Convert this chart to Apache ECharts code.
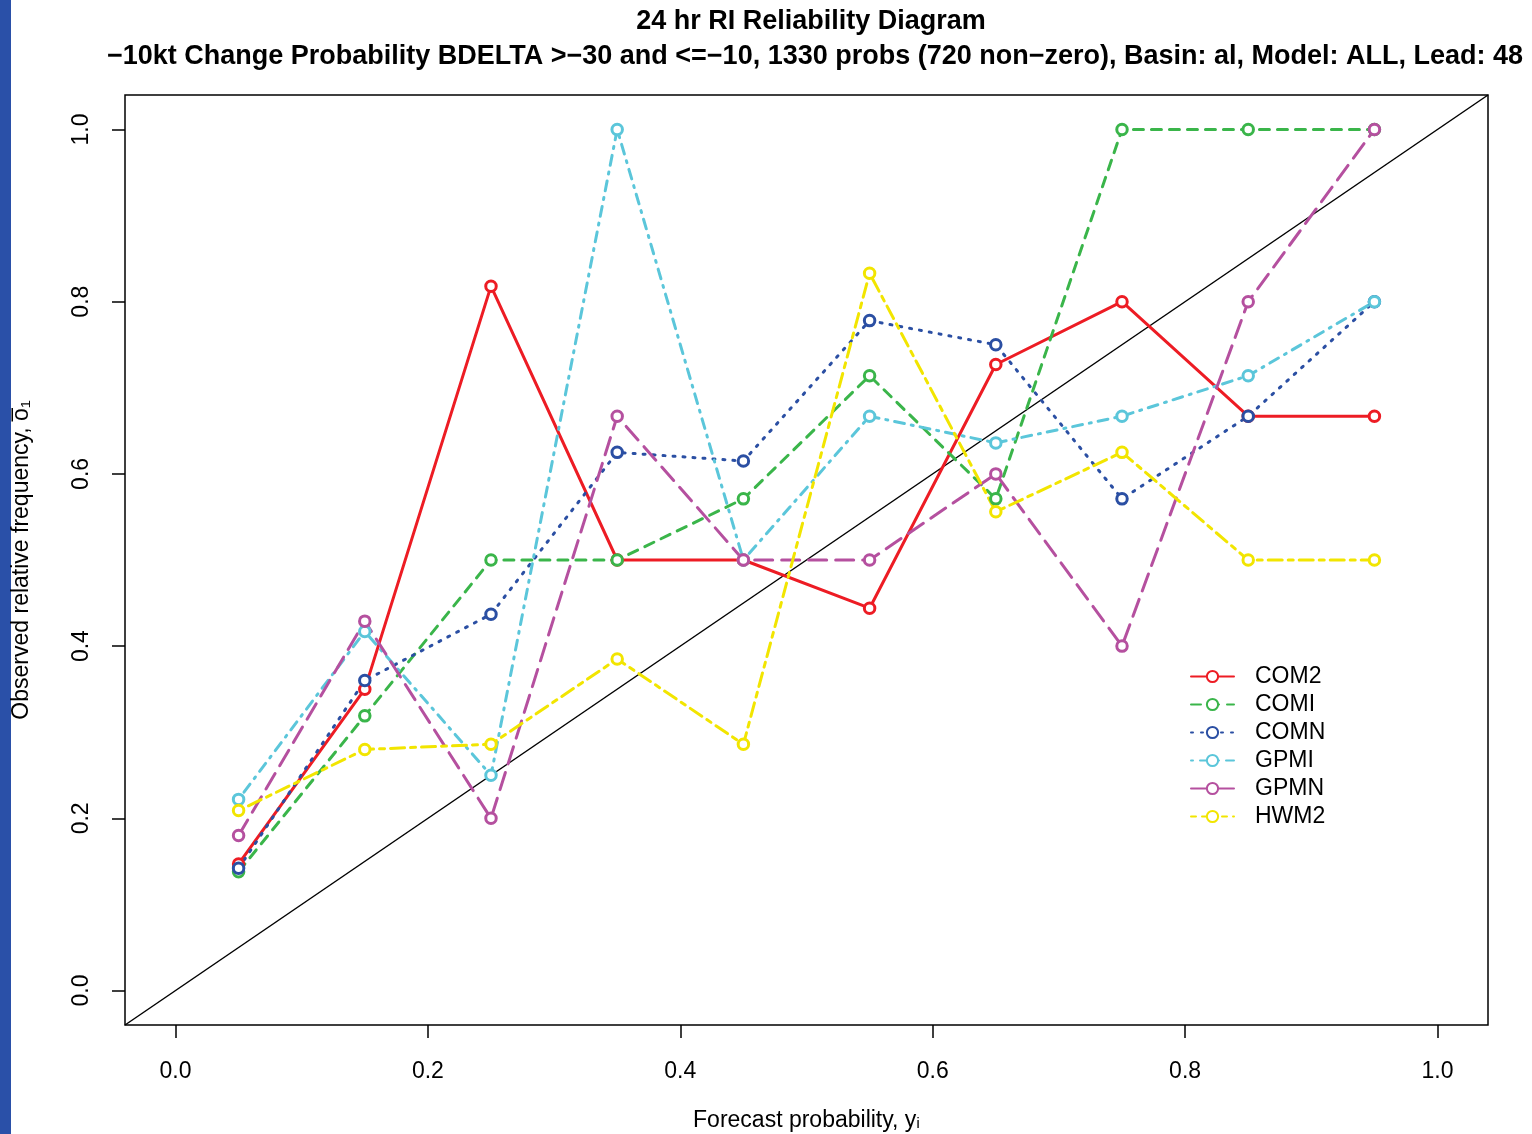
<!DOCTYPE html>
<html>
<head>
<meta charset="utf-8">
<script src="https://cdn.jsdelivr.net/npm/echarts@6/dist/echarts.min.js"></script>
<style>
  html, body { margin: 0; padding: 0; background: #fff; }
  #main { width: 1532px; height: 1134px; }
</style>
</head>
<body>
<div id="main"></div>
<script>
// forecast probability bins
var probBins = [0.05, 0.15, 0.25, 0.35, 0.45, 0.55, 0.65, 0.75, 0.85, 0.95];
var tickValues = [0, 0.2, 0.4, 0.6, 0.8, 1.0];

// observed relative frequency per model
var com2 = [0.147, 0.350, 0.818, 0.500, 0.500, 0.444, 0.727, 0.800, 0.667, 0.667];
var comi = [0.138, 0.319, 0.500, 0.500, 0.571, 0.714, 0.571, 1.000, 1.000, 1.000];
var comn = [0.142, 0.360, 0.437, 0.625, 0.615, 0.778, 0.750, 0.571, 0.667, 0.800];
var gpmi = [0.222, 0.417, 0.250, 1.000, 0.500, 0.667, 0.636, 0.667, 0.714, 0.800];
var gpmn = [0.180, 0.429, 0.200, 0.667, 0.500, 0.500, 0.600, 0.400, 0.800, 1.000];
var hwm2 = [0.209, 0.280, 0.286, 0.385, 0.286, 0.833, 0.556, 0.625, 0.500, 0.500];

// perfect reliability line, corner to corner
var diagX = [-0.04, 1.04];

var models = [
  { name: 'COM2', data: com2, color: '#ED1C24', dash: 'solid' },
  { name: 'COMI', data: comi, color: '#3AB54A', dash: [10, 8] },
  { name: 'COMN', data: comn, color: '#2B4FA3', dash: [2, 8] },
  { name: 'GPMI', data: gpmi, color: '#5BC6DA', dash: [2, 7, 10, 7] },
  { name: 'GPMN', data: gpmn, color: '#B5509F', dash: [18, 9] },
  { name: 'HWM2', data: hwm2, color: '#F2E500', dash: [5, 6, 14, 6] }
];

var font = '"Liberation Sans", Arial, sans-serif';

var chart = echarts.init(document.getElementById('main'));

var series = [{
  type: 'line',
  name: 'diag',
  data: diagX.map(function (v) { return [v, v]; }),
  symbol: 'none',
  silent: true,
  lineStyle: { color: '#000', width: 1.5 },
  z: 1
}];

models.forEach(function (m) {
  series.push({
    type: 'line',
    name: m.name,
    data: probBins.map(function (x, i) { return [x, m.data[i]]; }),
    symbol: 'circle',
    symbolSize: 10.5,
    color: m.color,
    itemStyle: { color: '#fff', borderColor: m.color, borderWidth: 3 },
    lineStyle: { color: m.color, width: 3, type: m.dash, cap: 'round' },
    z: 2
  });
});

var axisCommon = {
  type: 'value',
  min: -0.04,
  max: 1.04,
  splitLine: { show: false },
  axisLine: { show: false, onZero: false },
  axisTick: { show: true, length: 13, customValues: tickValues, lineStyle: { color: '#000', width: 1.5 } }
};

chart.setOption({
  animation: false,
  title: [{
    text: '24 hr RI Reliability Diagram',
    left: 806,
    top: 3,
    textAlign: 'center',
    textStyle: { fontFamily: font, fontSize: 27, fontWeight: 'bold', color: '#000' }
  }, {
    text: '\u221210kt Change Probability BDELTA >\u221230 and <=\u221210, 1330 probs (720 non\u2212zero), Basin: al, Model: ALL, Lead: 48',
    left: 810,
    top: 38,
    textAlign: 'center',
    textStyle: { fontFamily: font, fontSize: 27, fontWeight: 'bold', color: '#000' }
  }],
  legend: {
    data: models.map(function (m) { return m.name; }),
    orient: 'vertical',
    left: 1185,
    top: 660,
    itemWidth: 43,
    itemHeight: 14,
    itemGap: 5,
    textStyle: { fontFamily: font, fontSize: 23, lineHeight: 21, color: '#000', padding: [0, 0, 0, 16] }
  },
  grid: {
    left: 125, top: 95, width: 1363, height: 930,
    outerBoundsMode: 'none',
    show: true, borderColor: '#000', borderWidth: 1.5
  },
  xAxis: Object.assign({}, axisCommon, {
    axisLabel: {
      customValues: tickValues, margin: 35,
      fontFamily: font, fontSize: 23, color: '#000',
      formatter: function (v) { return v.toFixed(1); }
    },
    name: 'Forecast probability, y\u1D62',
    nameLocation: 'middle',
    nameGap: 84,
    nameTextStyle: { fontFamily: font, fontSize: 23, color: '#000' }
  }),
  yAxis: Object.assign({}, axisCommon, {
    axisLabel: {
      customValues: tickValues, margin: 32, rotate: 90,
      fontFamily: font, fontSize: 23, color: '#000',
      formatter: function (v) { return v.toFixed(1); }
    },
    name: 'Observed relative frequency, o\u0305\u2081',
    nameLocation: 'middle',
    nameGap: 92,
    nameRotate: 90,
    nameTextStyle: { fontFamily: font, fontSize: 23, color: '#000' }
  }),
  graphic: [{
    type: 'rect',
    shape: { x: 0, y: 0, width: 11, height: 1134 },
    style: { fill: '#2A50A8' }
  }],
  series: series
});
</script>
</body>
</html>
